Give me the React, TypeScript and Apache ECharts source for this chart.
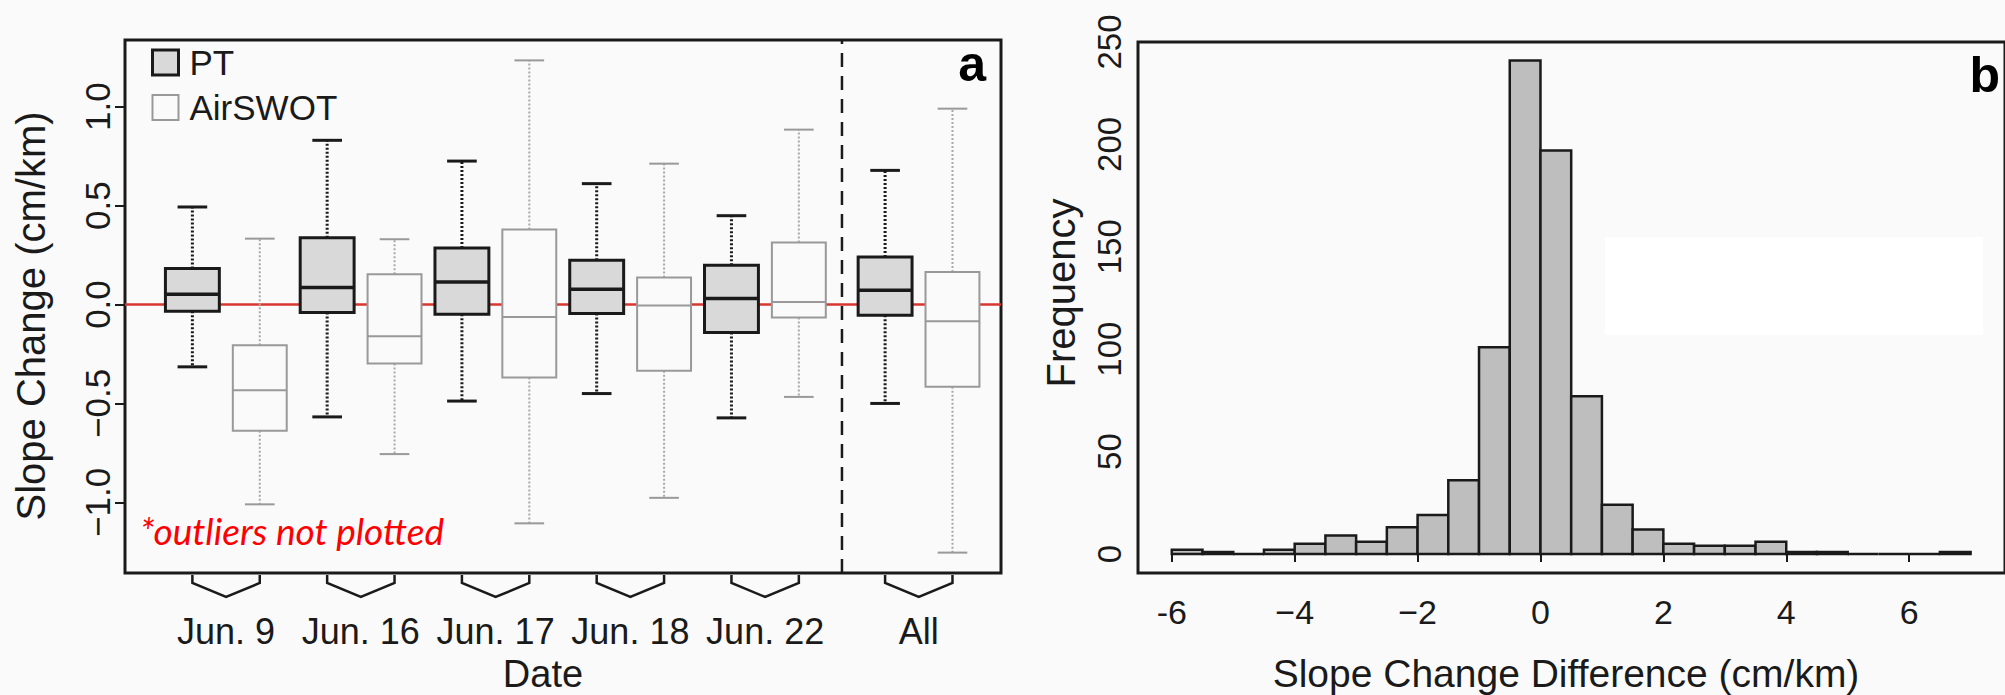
import React, { useEffect, useRef } from "react";
import * as echarts from "echarts";

// ---------- Panel a: box plots ----------
const dateLabels = ["Jun. 9", "Jun. 16", "Jun. 17", "Jun. 18", "Jun. 22", "All"];
// [lower whisker, Q1, median, Q3, upper whisker]
const ptStats = [
  [-0.315, -0.034, 0.052, 0.182, 0.493],
  [-0.568, -0.04, 0.086, 0.338, 0.83],
  [-0.488, -0.049, 0.114, 0.286, 0.725],
  [-0.45, -0.045, 0.077, 0.224, 0.611],
  [-0.573, -0.141, 0.03, 0.198, 0.449],
  [-0.5, -0.054, 0.072, 0.24, 0.678],
];
const airStats = [
  [-1.01, -0.638, -0.433, -0.206, 0.333],
  [-0.756, -0.298, -0.16, 0.153, 0.33],
  [-1.106, -0.369, -0.063, 0.379, 1.234],
  [-0.977, -0.335, -0.005, 0.136, 0.712],
  [-0.467, -0.066, 0.013, 0.313, 0.884],
  [-1.254, -0.416, -0.084, 0.165, 0.99],
];
const slopeTicks = [-1, -0.5, 0, 0.5, 1];
const slopeTickLabels = ["\u22121.0", "\u22120.5", "0.0", "0.5", "1.0"];

// ---------- Panel b: histogram ----------
const binStarts = [
  -6, -5.5, -5, -4.5, -4, -3.5, -3, -2.5, -2, -1.5, -1, -0.5, 0, 0.5, 1, 1.5, 2,
  2.5, 3, 3.5, 4, 4.5, 5, 5.5, 6, 6.5,
];
const binWidth = 0.5;
const counts = [
  2, 1, 0, 2, 5, 9, 6, 13, 19, 36, 101, 241, 197, 77, 24, 12, 5, 4, 4, 6, 1, 1,
  0, 0, 0, 1,
];
const freqTicks = [0, 50, 100, 150, 200, 250];
const diffTicks = [-6, -4, -2, 0, 2, 4, 6];
const diffTickLabels = ["-6", "\u22124", "\u22122", "0", "2", "4", "6"];

const FONT = "Liberation Sans";
const INK = "#1a1a1a";

export default function App() {
  const ref = useRef<HTMLDivElement>(null);

  useEffect(() => {
    if (!ref.current) return;
    const chart = echarts.init(ref.current, undefined, { renderer: "svg" });

    // layout of groups (x in axis units)
    const allShift = 0.28;
    const ptX = dateLabels.map((_, i) => 2 * i + 1 + (i === dateLabels.length - 1 ? allShift : 0));
    const airX = ptX.map((x) => x + 1);
    const mids = ptX.map((x, i) => (x + airX[i]) / 2);
    const divider = (airX[airX.length - 2] + ptX[ptX.length - 1]) / 2;

    const A_MIN = -1.357;
    const A_MAX = 1.337;
    const X_MIN = 0;
    const X_MAX = 13;

    const BOX_W = 0.8;
    const CAP_W = 0.44;

    const boxRender = (s: any) => (params: any, api: any) => {
      const x = api.value(0);
      const lo = api.value(1), q1 = api.value(2), med = api.value(3), q3 = api.value(4), hi = api.value(5);
      const half = api.size([BOX_W, 0])[0] / 2;
      const capHalf = api.size([CAP_W, 0])[0] / 2;
      const cx = api.coord([x, lo])[0];
      const yLo = api.coord([x, lo])[1];
      const yQ1 = api.coord([x, q1])[1];
      const yMed = api.coord([x, med])[1];
      const yQ3 = api.coord([x, q3])[1];
      const yHi = api.coord([x, hi])[1];
      return {
        type: "group",
        children: [
          { type: "line", shape: { x1: cx, y1: yQ3, x2: cx, y2: yHi }, style: { stroke: s.whisker, lineWidth: s.wW, lineDash: [2, 2] } },
          { type: "line", shape: { x1: cx, y1: yQ1, x2: cx, y2: yLo }, style: { stroke: s.whisker, lineWidth: s.wW, lineDash: [2, 2] } },
          { type: "line", shape: { x1: cx - capHalf, y1: yHi, x2: cx + capHalf, y2: yHi }, style: { stroke: s.stroke, lineWidth: s.lw } },
          { type: "line", shape: { x1: cx - capHalf, y1: yLo, x2: cx + capHalf, y2: yLo }, style: { stroke: s.stroke, lineWidth: s.lw } },
          { type: "rect", shape: { x: cx - half, y: yQ3, width: 2 * half, height: yQ1 - yQ3 }, style: { fill: s.fill, stroke: s.stroke, lineWidth: s.lw } },
          { type: "line", shape: { x1: cx - half, y1: yMed, x2: cx + half, y2: yMed }, style: { stroke: s.stroke, lineWidth: s.mw } },
        ],
      };
    };

    const ptStyle = { fill: "#d9d9d9", stroke: "#1a1a1a", lw: 3, mw: 3.5, whisker: "#1a1a1a", wW: 3 };
    const airStyle = { fill: "#fafafa", stroke: "#999999", lw: 2, mw: 2, whisker: "#a8a8a8", wW: 2 };

    const ptData = ptStats.map((s, i) => [ptX[i], ...s]);
    const airData = airStats.map((s, i) => [airX[i], ...s]);
    const bracketData = ptX.map((x, i) => [x, airX[i], A_MIN]);

    const histData = binStarts.map((b, i) => [b, b + binWidth, counts[i]]);

    const labelFor = (vals: number[], labels: string[]) => (v: number) => {
      const i = vals.findIndex((t) => Math.abs(t - v) < 1e-6);
      return i >= 0 ? labels[i] : "";
    };

    const option: any = {
      animation: false,
      backgroundColor: "#fafafa",
      textStyle: { fontFamily: FONT },
      grid: [
        { left: 125, top: 40, width: 876, height: 533, show: true, borderColor: INK, borderWidth: 3, backgroundColor: "transparent" },
        { left: 1138, top: 42, right: -12, height: 531, show: true, borderColor: INK, borderWidth: 3, backgroundColor: "transparent" },
      ],
      xAxis: [
        {
          type: "value", gridIndex: 0, min: X_MIN, max: X_MAX,
          axisLine: { show: false }, splitLine: { show: false }, axisTick: { show: false },
          axisLabel: {
            customValues: mids,
            formatter: labelFor(mids, dateLabels),
            fontSize: 36, color: INK, fontFamily: FONT, margin: 40,
          },
        },
        {
          type: "value", gridIndex: 1, min: -6.55, max: 7.56,
          axisLine: { show: false }, splitLine: { show: false },
          axisTick: { show: true, customValues: diffTicks, length: 8, lineStyle: { color: INK, width: 2 } },
          axisLabel: {
            customValues: diffTicks,
            formatter: labelFor(diffTicks, diffTickLabels),
            fontSize: 34, color: INK, fontFamily: FONT, margin: 22,
          },
        },
      ],
      yAxis: [
        {
          type: "value", gridIndex: 0, min: A_MIN, max: A_MAX,
          axisLine: { show: false }, splitLine: { show: false },
          axisTick: { show: true, customValues: slopeTicks, length: 10, lineStyle: { color: INK, width: 2 } },
          axisLabel: {
            customValues: slopeTicks,
            formatter: labelFor(slopeTicks, slopeTickLabels),
            rotate: 90, fontSize: 35, color: INK, fontFamily: FONT, margin: 10,
          },
        },
        {
          type: "value", gridIndex: 1, min: -9.3, max: 250,
          axisLine: { show: false }, splitLine: { show: false },
          axisTick: { show: true, customValues: freqTicks, length: 7, lineStyle: { color: INK, width: 2 } },
          axisLabel: {
            customValues: freqTicks,
            formatter: (v: number) => String(v),
            rotate: 90, fontSize: 33, color: INK, fontFamily: FONT, margin: 12,
          },
        },
      ],
      legend: {
        orient: "vertical",
        left: 146,
        top: 40,
        itemWidth: 26,
        itemHeight: 25,
        itemGap: 10,
        icon: "rect",
        selectedMode: false,
        textStyle: { fontSize: 35, color: INK, fontFamily: FONT, lineHeight: 25, padding: [0, 0, 0, 6] },
        data: [
          { name: "PT", icon: "rect", itemStyle: { color: "#d9d9d9", borderColor: "#1a1a1a", borderWidth: 3 } },
          { name: "AirSWOT", icon: "rect", itemStyle: { color: "#fafafa", borderColor: "#999999", borderWidth: 2 } },
        ],
      },
      series: [
        {
          type: "line", xAxisIndex: 0, yAxisIndex: 0, z: 1, symbol: "none", silent: true,
          data: [[X_MIN, 0], [X_MAX, 0]],
          lineStyle: { color: "#d9362f", width: 2.5 },
        },
        {
          type: "line", xAxisIndex: 0, yAxisIndex: 0, z: 1, symbol: "none", silent: true,
          data: [[divider, A_MIN], [divider, A_MAX]],
          lineStyle: { color: INK, width: 2.5, type: [14, 9] },
        },
        {
          name: "PT", type: "custom", xAxisIndex: 0, yAxisIndex: 0, z: 3,
          renderItem: boxRender(ptStyle),
          encode: { x: 0, y: [1, 2, 3, 4, 5] },
          itemStyle: { color: "#d9d9d9", borderColor: "#1a1a1a" },
          data: ptData,
        },
        {
          name: "AirSWOT", type: "custom", xAxisIndex: 0, yAxisIndex: 0, z: 3,
          renderItem: boxRender(airStyle),
          encode: { x: 0, y: [1, 2, 3, 4, 5] },
          itemStyle: { color: "#fafafa", borderColor: "#999999" },
          data: airData,
        },
        {
          type: "custom", xAxisIndex: 0, yAxisIndex: 0, z: 3, clip: false, silent: true,
          renderItem: (params: any, api: any) => {
            const p0 = api.coord([api.value(0), api.value(2)]);
            const p1 = api.coord([api.value(1), api.value(2)]);
            const xl = p0[0], xr = p1[0], yb = p0[1];
            return {
              type: "polyline",
              shape: { points: [[xl, yb + 2], [xl, yb + 10], [(xl + xr) / 2, yb + 24], [xr, yb + 10], [xr, yb + 2]] },
              style: { stroke: INK, lineWidth: 2.5, fill: "none" },
            };
          },
          encode: { x: [0, 1], y: 2 },
          data: bracketData,
        },
        {
          type: "custom", xAxisIndex: 1, yAxisIndex: 1, z: 3, silent: true,
          renderItem: (params: any, api: any) => {
            const p0 = api.coord([api.value(0), 0]);
            const p1 = api.coord([api.value(1), api.value(2)]);
            return {
              type: "rect",
              shape: { x: p0[0], y: p1[1], width: p1[0] - p0[0], height: p0[1] - p1[1] },
              style: { fill: "#bebebe", stroke: INK, lineWidth: 2.5 },
            };
          },
          encode: { x: [0, 1], y: 2 },
          data: histData,
        },
      ],
      graphic: [
        {
          type: "rect", z: 0, silent: true,
          shape: { x: 1605, y: 237, width: 378, height: 98 },
          style: { fill: "#ffffff" },
        },
        {
          type: "text", z: 10, x: 31, y: 316, rotation: Math.PI / 2,
          style: { text: "Slope Change (cm/km)", fontSize: 40, fontFamily: FONT, fill: INK, align: "center", verticalAlign: "middle", textAlign: "center", textVerticalAlign: "middle" },
        },
        {
          type: "text", z: 10, x: 543, y: 674,
          style: { text: "Date", fontSize: 38, fontFamily: FONT, fill: INK, align: "center", verticalAlign: "middle", textAlign: "center", textVerticalAlign: "middle" },
        },
        {
          type: "text", z: 10, x: 986, y: 64,
          style: { text: "a", fontSize: 50, fontWeight: "bold", fontFamily: FONT, fill: "#000", align: "right", verticalAlign: "middle", textAlign: "right", textVerticalAlign: "middle" },
        },
        {
          type: "text", z: 10, x: 140, y: 530,
          style: { text: "*outliers not plotted", fontSize: 37, fontStyle: "italic", fontFamily: "Lato", fill: "#ff0000", align: "left", verticalAlign: "middle", textAlign: "left", textVerticalAlign: "middle" },
        },
        {
          type: "text", z: 10, x: 1061, y: 293, rotation: Math.PI / 2,
          style: { text: "Frequency", fontSize: 40, fontFamily: FONT, fill: INK, align: "center", verticalAlign: "middle", textAlign: "center", textVerticalAlign: "middle" },
        },
        {
          type: "text", z: 10, x: 1566, y: 673,
          style: { text: "Slope Change Difference (cm/km)", fontSize: 39, fontFamily: FONT, fill: INK, align: "center", verticalAlign: "middle", textAlign: "center", textVerticalAlign: "middle" },
        },
        {
          type: "text", z: 10, x: 2000, y: 75,
          style: { text: "b", fontSize: 50, fontWeight: "bold", fontFamily: FONT, fill: "#000", align: "right", verticalAlign: "middle", textAlign: "right", textVerticalAlign: "middle" },
        },
      ],
    };

    chart.setOption(option);
    return () => chart.dispose();
  }, []);

  return (
    <div
      ref={ref}
      style={{ position: "fixed", left: 0, top: 0, width: 2005, height: 695 }}
    />
  );
}
